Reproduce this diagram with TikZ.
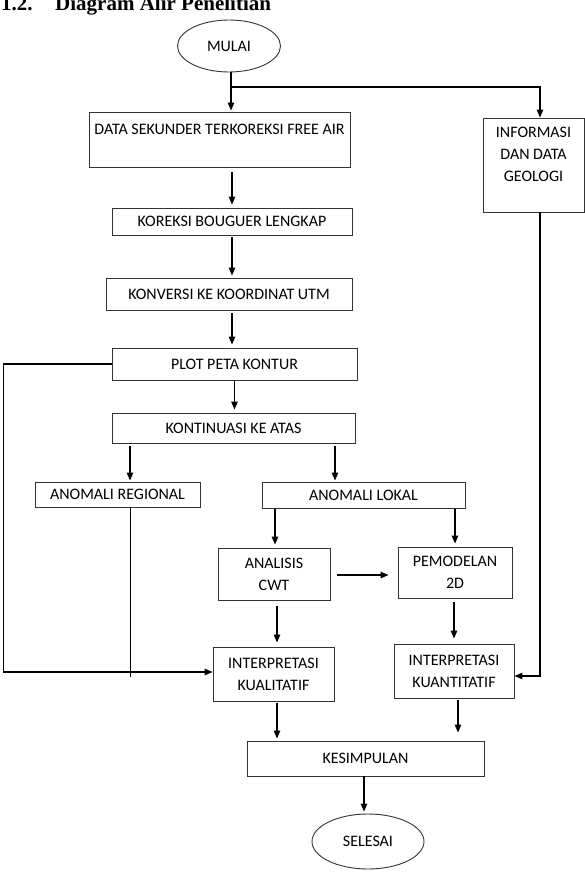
\documentclass[tikz,border=0pt]{standalone}
\usepackage{fontspec}
\setmainfont{Carlito}
\newfontfamily\judulfont{Liberation Serif}
\usetikzlibrary{shapes.geometric,arrows.meta,positioning}

\tikzset{
  kotak/.style={draw=black!80, line width=0.9pt, inner sep=2pt, align=center},
  elips/.style={ellipse, draw=black!80, line width=0.9pt, inner sep=0pt},
  panah/.style={-{Triangle[length=8pt,width=6.5pt]}, line width=1.2pt},
  garis/.style={line width=1pt},
}

\begin{document}
\begin{tikzpicture}[x=1pt,y=-1pt,font=\fontsize{16}{22}\selectfont]
\useasboundingbox (0,0) rectangle (585,896);

%%%---------- Judul ----------%%%
\node [anchor=base west, inner sep=0pt, font=\judulfont\bfseries\fontsize{21}{24}\selectfont] (nomor) at (1,11) {1.2.};
\node [anchor=base west, inner sep=0pt, font=\judulfont\bfseries\fontsize{21}{24}\selectfont] (judul) at (55,11) {Diagram Alir Penelitian};

%%%---------- Mulai / Selesai ----------%%%
\node [elips, minimum width=103pt, minimum height=52pt] (mulai) at (229,46) {MULAI};
\node [elips, minimum width=112pt, minimum height=55pt] (selesai) at (368,841.5) {SELESAI};

%%%---------- Kotak proses ----------%%%
\node [kotak, minimum width=261pt, minimum height=55pt,
       label={[anchor=north, yshift=-9pt]north:DATA SEKUNDER TERKOREKSI FREE AIR}] (data) at (219.5,139.5) {};
\node [kotak, minimum width=101pt, minimum height=94pt,
       label={[anchor=north, yshift=-6pt, align=center]north:INFORMASI\\DAN DATA\\GEOLOGI}] (info) at (533.5,165) {};
\node [kotak, minimum width=240pt, minimum height=27pt] (koreksi) at (232,221.5) {KOREKSI BOUGUER LENGKAP};
\node [kotak, minimum width=246pt, minimum height=32pt] (konversi) at (229,294) {KONVERSI KE KOORDINAT UTM};
\node [kotak, minimum width=245pt, minimum height=32pt] (plot) at (234.5,364) {PLOT PETA KONTUR};
\node [kotak, minimum width=243pt, minimum height=30pt] (kontinuasi) at (233.5,428) {KONTINUASI KE ATAS};
\node [kotak, minimum width=165pt, minimum height=25pt] (regional) at (117.5,494.5) {ANOMALI REGIONAL};
\node [kotak, minimum width=203pt, minimum height=26pt] (lokal) at (363.5,495) {ANOMALI LOKAL};
\node [kotak, minimum width=112pt, minimum height=52pt] (cwt) at (274,574) {ANALISIS\\CWT};
\node [kotak, minimum width=114pt, minimum height=51pt] (pemodelan) at (455,572.5) {PEMODELAN\\2D};
\node [kotak, minimum width=121pt, minimum height=54pt] (kualitatif) at (273.5,674) {INTERPRETASI\\KUALITATIF};
\node [kotak, minimum width=120pt, minimum height=54pt] (kuantitatif) at (454,671) {INTERPRETASI\\KUANTITATIF};
\node [kotak, minimum width=237pt, minimum height=35pt] (kesimpulan) at (365.5,758.5) {KESIMPULAN};

%%%---------- Panah ----------%%%
\coordinate (cabang) at (231,87);
\coordinate (ujungreg) at (130,677);

\draw [panah, shorten >=1pt]            ([xshift=2pt]mulai.south) -- ([xshift=2pt]mulai.south |- data.north);
\draw [panah]                           (cabang) -| ([xshift=6.5pt]info.north);
\draw [panah, shorten <=5pt, shorten >=3pt] (koreksi.north |- data.south) -- (koreksi.north);
\draw [panah, shorten <=2pt, shorten >=2pt] (koreksi.south) -- (koreksi.south |- konversi.north);
\draw [panah, shorten <=3pt, shorten >=3pt] ([xshift=3pt]konversi.south) -- ([xshift=3pt]konversi.south |- plot.north);
\draw [panah, shorten <=1pt, shorten >=3pt] (plot.south) -- (plot.south |- kontinuasi.north);
\draw [panah, shorten <=3pt, shorten >=1pt] ([xshift=12.5pt]regional.north |- kontinuasi.south) -- ([xshift=12.5pt]regional.north);
\draw [panah, shorten <=3pt, shorten >=1pt] ([xshift=-28.5pt]lokal.north |- kontinuasi.south) -- ([xshift=-28.5pt]lokal.north);
\draw [panah, shorten <=1pt, shorten >=3pt] ([xshift=1pt]cwt.north |- lokal.south) -- ([xshift=1pt]cwt.north);
\draw [panah, shorten <=1pt, shorten >=3pt] (pemodelan.north |- lokal.south) -- (pemodelan.north);
\draw [panah, shorten <=7pt, shorten >=9pt] ([yshift=-1pt]cwt.east) -- ([yshift=-1pt]cwt.east -| pemodelan.west);
\draw [panah, shorten <=6pt, shorten >=4pt] ([xshift=3pt]cwt.south) -- ([xshift=3pt]cwt.south |- kualitatif.north);
\draw [panah, shorten <=4pt, shorten >=5pt] ([xshift=-1pt]pemodelan.south) -- ([xshift=-1pt]pemodelan.south |- kuantitatif.north);

%%%---------- Garis samping ----------%%%
\draw [panah] (plot.west) -- ++(-108,0) |- ([yshift=2pt]kualitatif.west);
\draw [garis] ([xshift=12.5pt]regional.south) -- (ujungreg);
\draw [panah] ([xshift=6.5pt]info.south) |- ([yshift=-5pt]kuantitatif.east);

%%%---------- Ke kesimpulan ----------%%%
\draw [panah, shorten <=2pt, shorten >=2pt] ([xshift=3.5pt]kualitatif.south) -- ([xshift=3.5pt]kualitatif.south |- kesimpulan.north);
\draw [panah, shorten <=2pt, shorten >=8pt] ([xshift=4pt]kuantitatif.south) -- ([xshift=4pt]kuantitatif.south |- kesimpulan.north);
\draw [panah, shorten >=2pt]            ([xshift=-1.5pt]kesimpulan.south) -- ([xshift=-1.5pt]kesimpulan.south |- selesai.north);

\end{tikzpicture}
\end{document}
